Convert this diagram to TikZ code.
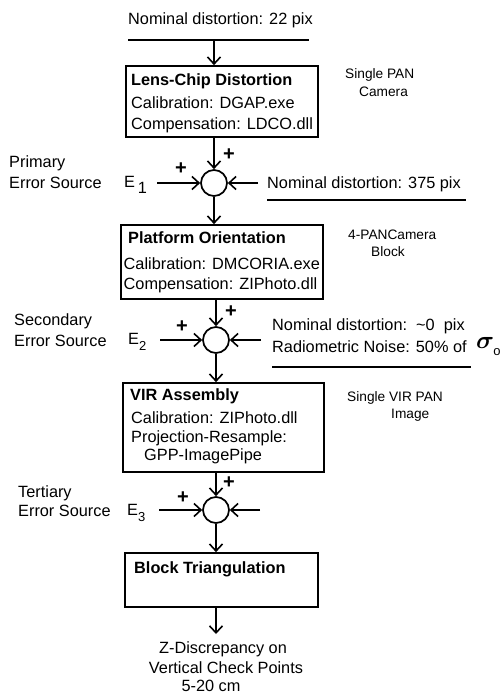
\documentclass[tikz,border=0pt]{standalone}
\usepackage{amsmath}
\usepackage{fontspec}
\setmainfont{Liberation Sans}
\usetikzlibrary{arrows.meta}
\newcommand{\mainfs}{\fontsize{16.3}{19}\selectfont}
\newcommand{\smallfs}{\fontsize{13.7}{16}\selectfont}
\newcommand{\subfs}{\fontsize{13}{13}\selectfont}
\begin{document}
\begin{tikzpicture}[x=1pt,y=-1pt,
  txt/.style={inner sep=0pt, anchor=west, font=\mainfs, text height=11.7pt, text depth=0pt},
  ttl/.style={txt, font=\mainfs\bfseries},
  sml/.style={inner sep=0pt, anchor=west, font=\smallfs, text height=9.8pt, text depth=0pt},
  boxnode/.style={draw, line width=1.7pt, inner sep=0pt},
  sumnode/.style={draw, circle, line width=1.7pt, minimum size=26pt, inner sep=0pt},
  arr/.style={line width=1.5pt, -{Straight Barb[length=7pt,width=13pt,line width=1.6pt]}},
  rule/.style={line width=1.4pt},
  plus/.style={inner sep=0pt, font=\fontsize{20}{20}\selectfont\bfseries}]
\useasboundingbox (0,0) rectangle (502,695);

% ---------- top input ----------
\node[txt] (nom1) at (128,19) {Nominal distortion: 22 pix};
\coordinate (l1a) at (128,40);
\coordinate (l1b) at (309,40);
\draw[rule] (l1a) -- (l1b);
\coordinate (in1) at (214,41);

% ---------- box 1 ----------
\node[boxnode, minimum width=192pt, minimum height=71pt] (b1) at (222,101.5) {};
\node[ttl] (b1t) at (131,80) {Lens-Chip Distortion};
\node[txt] (b1c) at (131,103) {Calibration: DGAP.exe};
\node[txt] (b1d) at (131,124) {Compensation: LDCO.dll};
\node[sml] (s1a) at (345,74) {Single PAN};
\node[sml] (s1b) at (359,92) {Camera};
\draw[arr] (in1) -- (in1 |- b1.north);

% ---------- summing junction 1 ----------
\node[sumnode] (c1) at (214,183) {};
\draw[arr] (c1.north |- b1.south) -- (c1.north);
\node[plus] (p1a) at (229,155) {+};
\node[plus] (p1b) at (181,169) {+};
\node[txt] (e1lab1) at (9,162) {Primary};
\node[txt] (e1lab2) at (9,183) {Error Source};
\node[txt] (e1) at (124,182) {E\,\raisebox{-6pt}{1}};
\coordinate (e1s) at (157,183);
\draw[arr] (e1s) -- (c1.west);
\coordinate (r1s) at (258,183);
\draw[arr] (r1s) -- (c1.east);
\node[txt] (nom2) at (267,183) {Nominal distortion: 375 pix};
\coordinate (l2a) at (267,200);
\coordinate (l2b) at (466,200);
\draw[rule] (l2a) -- (l2b);

% ---------- box 2 ----------
\node[boxnode, minimum width=202pt, minimum height=74pt] (b2) at (222,262) {};
\draw[arr] (c1.south) -- (c1.south |- b2.north);
\node[ttl] (b2t) at (128,238) {Platform Orientation};
\node[txt] (b2c) at (123.5,264) {Calibration: DMCORIA.exe};
\node[txt] (b2d) at (123.5,284) {Compensation: ZIPhoto.dll};
\node[sml] (s2a) at (348,235) {4-PANCamera};
\node[sml] (s2b) at (371,252) {Block};

% ---------- summing junction 2 ----------
\node[sumnode] (c2) at (216,340) {};
\draw[arr] (c2.north |- b2.south) -- (c2.north);
\node[plus] (p2a) at (231,312) {+};
\node[plus] (p2b) at (182,327) {+};
\node[txt] (e2lab1) at (14,320) {Secondary};
\node[txt] (e2lab2) at (14,341) {Error Source};
\node[txt] (e2) at (128,339) {E\raisebox{-6pt}{\subfs 2}};
\coordinate (e2s) at (160,340);
\draw[arr] (e2s) -- (c2.west);
\coordinate (r2s) at (261,340);
\draw[arr] (r2s) -- (c2.east);
\node[txt] (nom3) at (272,325) {Nominal distortion:\ \ \textasciitilde0\ \ pix};
\node[txt] (rad) at (272,347) {Radiometric Noise: 50\% of};
\node[inner sep=0pt, font=\fontsize{24}{24}\selectfont] (sig) at (485,343) {$\boldsymbol{\sigma}$};
\node[inner sep=0pt, font=\subfs] (sigo) at (497,352) {o};
\coordinate (l3a) at (272,367);
\coordinate (l3b) at (471,367);
\draw[rule] (l3a) -- (l3b);

% ---------- box 3 ----------
\node[boxnode, minimum width=201pt, minimum height=89pt] (b3) at (223.5,427.5) {};
\draw[arr] (c2.south) -- (c2.south |- b3.north);
\node[ttl] (b3t) at (130,395) {VIR Assembly};
\node[txt] (b3c) at (131,418) {Calibration: ZIPhoto.dll};
\node[txt] (b3d) at (131,437) {Projection-Resample:};
\node[txt] (b3e) at (144,455) {GPP-ImagePipe};
\node[sml] (s3a) at (347,397) {Single VIR PAN};
\node[sml] (s3b) at (391,414) {Image};

% ---------- summing junction 3 ----------
\node[sumnode] (c3) at (216,510) {};
\draw[arr] (c3.north |- b3.south) -- (c3.north);
\node[plus] (p3a) at (229,483) {+};
\node[plus] (p3b) at (183,498) {+};
\node[txt] (e3lab1) at (18,492) {Tertiary};
\node[txt] (e3lab2) at (18,511) {Error Source};
\node[txt] (e3) at (127,510) {E\raisebox{-6pt}{\subfs 3}};
\coordinate (e3s) at (159,510);
\draw[arr] (e3s) -- (c3.west);
\coordinate (r3s) at (260,510);
\draw[arr] (r3s) -- (c3.east);

% ---------- box 4 ----------
\node[boxnode, minimum width=193pt, minimum height=54pt] (b4) at (221.5,580) {};
\draw[arr] (c3.south) -- (c3.south |- b4.north);
\node[ttl] (b4t) at (134,568) {Block Triangulation};
\coordinate (out) at (216,634);
\draw[arr] (c3.south |- b4.south) -- (out);

% ---------- output ----------
\node[txt, anchor=center] (o1) at (223,648) {Z-Discrepancy on};
\node[txt, anchor=center] (o2) at (226,668) {Vertical Check Points};
\node[txt, anchor=center] (o3) at (211,686) {5-20 cm};
\end{tikzpicture}
\end{document}
